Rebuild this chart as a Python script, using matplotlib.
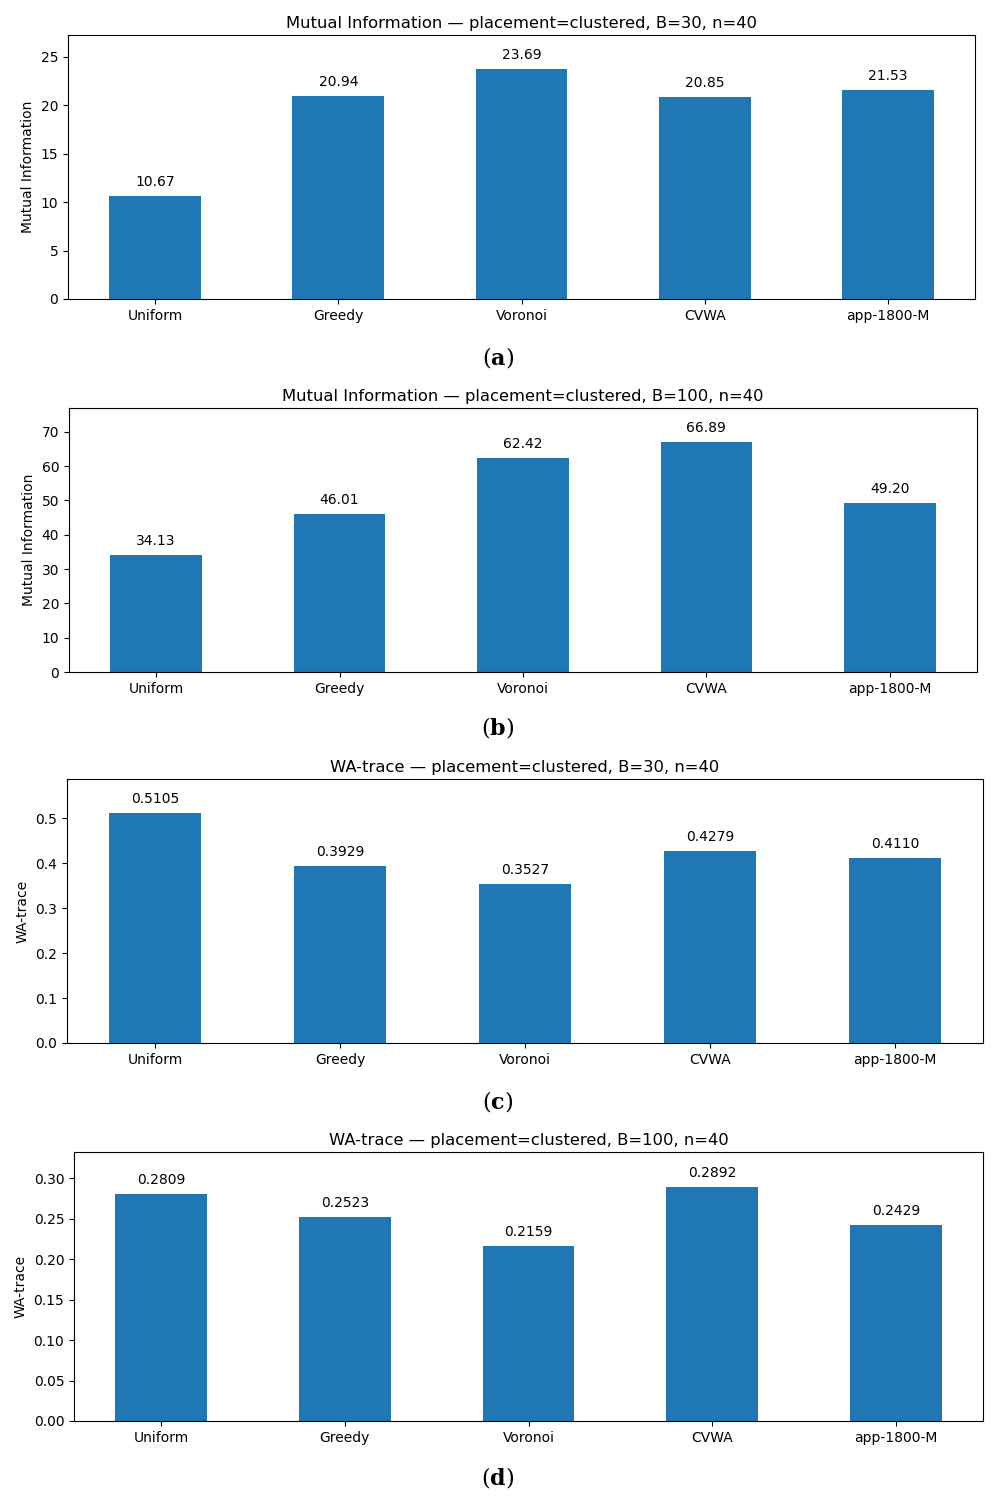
import matplotlib.pyplot as plt

methods = ["Uniform", "Greedy", "Voronoi", "CVWA", "app-1800-M"]

mi_b30 = [10.67, 20.94, 23.69, 20.85, 21.53]
mi_b100 = [34.13, 46.01, 62.42, 66.89, 49.20]
wa_b30 = [0.5105, 0.3929, 0.3527, 0.4279, 0.4110]
wa_b100 = [0.2809, 0.2523, 0.2159, 0.2892, 0.2429]

titles = ["Mutual Information — placement=clustered, B=30, n=40",
          "Mutual Information — placement=clustered, B=100, n=40",
          "WA-trace — placement=clustered, B=30, n=40",
          "WA-trace — placement=clustered, B=100, n=40"]
ylabels = ["Mutual Information", "Mutual Information", "WA-trace", "WA-trace"]
fmts = ["{:.2f}", "{:.2f}", "{:.4f}", "{:.4f}"]
letters = ["a", "b", "c", "d"]
series = [mi_b30, mi_b100, wa_b30, wa_b100]

W, H = 996, 1501
# axes boxes in pixels: left, right, top, bottom ; caption y
boxes = [(68, 975, 35, 299, 358),
         (69, 977, 408, 672, 728),
         (67, 983, 779, 1043, 1102),
         (74, 983, 1152, 1421, 1478)]

fig = plt.figure(figsize=(W / 100, H / 100), dpi=100)

for i in range(4):
    l, r, t, b, cy = boxes[i]
    ax = fig.add_axes([l / W, 1 - b / H, (r - l) / W, (b - t) / H])
    vals = series[i]
    x = range(len(methods))
    ax.bar(x, vals, width=0.5, color="#1f77b4")
    ax.set_xticks(list(x))
    ax.set_xticklabels(methods, fontsize=10)
    ax.tick_params(axis="y", labelsize=10)
    ax.set_ylim(0, max(vals) * 1.15)
    ax.set_ylabel(ylabels[i], fontsize=10)
    ax.set_title(titles[i], fontsize=11.8, pad=5)
    for xi, v in zip(x, vals):
        ax.annotate(fmts[i].format(v), (xi, v), xytext=(0, 5),
                    textcoords="offset points", ha="center", va="bottom", fontsize=10)
    fig.text(0.5, 1 - cy / H, r"($\mathbf{" + letters[i] + "}$)", ha="center", va="center",
             fontsize=16, family="DejaVu Serif", math_fontfamily="dejavuserif")

fig.savefig("out.png", dpi=100)
